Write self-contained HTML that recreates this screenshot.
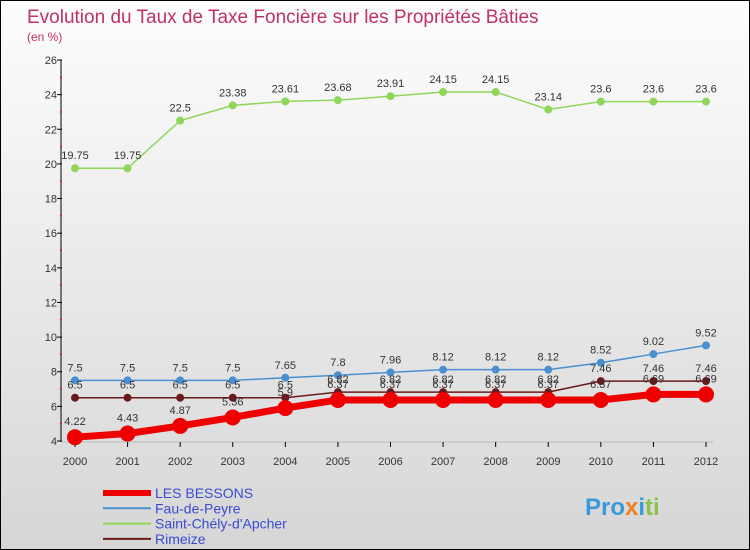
<!DOCTYPE html>
<html><head><meta charset="utf-8"><style>
body{margin:0}
#c{width:748px;height:548px;border:1px solid #000;position:relative;background:linear-gradient(#fdfdfd,#d6d6d6);font-family:"Liberation Sans",sans-serif;overflow:hidden}
svg text{font-family:"Liberation Sans",sans-serif}
</style></head><body>
<div id="c">
<svg id="s" width="748" height="548">
<text x="26" y="22" font-size="19" fill="#c0306a">Evolution du Taux de Taxe Foncière sur les Propriétés Bâties</text>
<text x="26" y="40" font-size="12" fill="#c0306a">(en %)</text>
<text x="584" y="514" font-size="24" font-weight="bold" fill="#3a9ad9">Pro<tspan fill="#f08020">x</tspan><tspan fill="#3a9ad9">i</tspan><tspan fill="#8bc34a">ti</tspan></text>
<g id="g"></g>
</svg>
</div>
<script>
const years=[2000,2001,2002,2003,2004,2005,2006,2007,2008,2009,2010,2011,2012];
const yTicks=[4,6,8,10,12,14,16,18,20,22,24,26];
const lesBessons=[4.22,4.43,4.87,5.36,5.9,6.37,6.37,6.37,6.37,6.37,6.37,6.69,6.69];
const fauDePeyre=[7.5,7.5,7.5,7.5,7.65,7.8,7.96,8.12,8.12,8.12,8.52,9.02,9.52];
const saintChely=[19.75,19.75,22.5,23.38,23.61,23.68,23.91,24.15,24.15,23.14,23.6,23.6,23.6];
const rimeize=[6.5,6.5,6.5,6.5,6.5,6.82,6.82,6.82,6.82,6.82,7.46,7.46,7.46];
const NS="http://www.w3.org/2000/svg";
const g=document.getElementById('g');
function X(i){return 74+i*(705-74)/(years.length-1);}
function Y(v){return 440-(v-4)*(440-59)/22;}
function el(t,a){const e=document.createElementNS(NS,t);for(const k in a)e.setAttribute(k,a[k]);g.appendChild(e);return e;}
let ax=el('line',{x1:60,y1:59,x2:60,y2:441,stroke:'#000'});


let bx=el('line',{x1:60,y1:441,x2:712,y2:441,stroke:'#bbb'});


yTicks.forEach(v=>{
 let t=el('text',{x:56,y:Y(v)+4,'font-size':11,'text-anchor':'end',fill:'#333'});t.textContent=v;
 
 
 el('line',{x1:56,y1:Y(v),x2:61,y2:Y(v),stroke:'#000'});
 if(v<26)el('line',{x1:59,y1:Y(v+1),x2:61,y2:Y(v+1),stroke:'#e00'});
});
years.forEach((yr,i)=>{
 el('line',{x1:X(i),y1:441,x2:X(i),y2:446,stroke:'#000'});
 let t=el('text',{x:X(i),y:464,'font-size':11,'text-anchor':'middle',fill:'#333'});t.textContent=yr;
 
 
});
function series(d,color,lw,r,name,dy){
 let p=el('polyline',{points:d.map((v,i)=>X(i)+','+Y(v)).join(' '),fill:'none',stroke:color,'stroke-width':lw,'stroke-linejoin':'round'});
 
 
 d.forEach((v,i)=>{
  let c=el('circle',{cx:X(i),cy:Y(v),r:r,fill:color});
  
  
  let t=el('text',{x:X(i),y:Y(v)+dy,'font-size':11,'text-anchor':'middle',fill:'#333'});t.textContent=v;
  
  
 });
}
series(saintChely,'#8fd65a',1.5,4,'saint-chely',-9);
series(fauDePeyre,'#4a90d0',1.5,4,'fau-de-peyre',-9);
series(rimeize,'#6b1a1a',1.5,4,'rimeize',-9);
series(lesBessons,'#ee0000',7,8,'les-bessons',-12);
const legend=[['LES BESSONS','#ee0000',6],['Fau-de-Peyre','#4a90d0',2],["Saint-Chély-d'Apcher",'#8fd65a',2],['Rimeize','#6b1a1a',2]];
legend.forEach((l,i)=>{
 let y=492+i*15.3;
 let ln=el('line',{x1:102,y1:y,x2:150,y2:y,stroke:l[1],'stroke-width':l[2]});
 
 
 let t=el('text',{x:154,y:y+5,'font-size':14,fill:'#3a4bd0'});t.textContent=l[0];
 
 
});
</script>
</body></html>
